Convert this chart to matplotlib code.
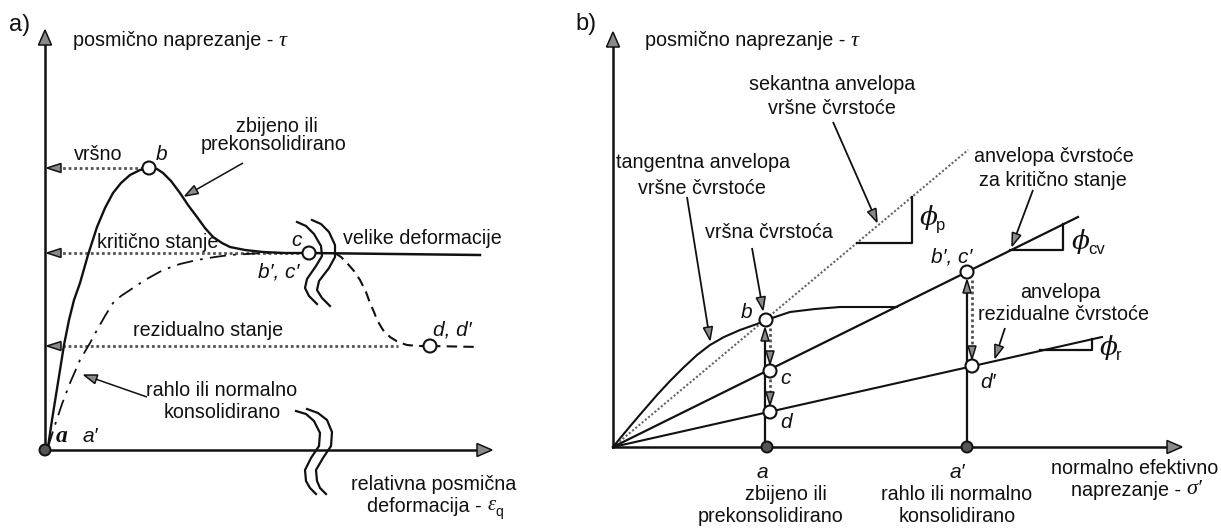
import matplotlib
matplotlib.use("Agg")
import matplotlib.pyplot as plt
from matplotlib.patches import Polygon, Circle
import numpy as np

# ---------------- schematic data (pixel coordinates) ----------------
# Panel a) : shear stress vs shear strain
a_origin = (45, 450)
a_y_top = 30
a_x_end = 492
tau_peak_y = 168
tau_crit_y = 253
tau_resid_y = 346
dense_x = [48, 52, 56, 60, 64, 69, 74, 80, 88, 97, 105, 113, 121, 130, 140, 149,
           157, 163, 171, 180, 188, 197, 205, 213, 222, 230, 245, 263, 285, 309]
dense_y = [447, 420, 395, 370, 345, 320, 300, 283, 255, 227, 208, 193, 183, 175, 170, 168,
           169, 173, 181, 193, 205, 217, 228, 237, 243, 247, 250, 252, 253, 253]
loose_x = [48, 55, 62, 70, 80, 90, 97, 105, 113, 121, 130, 145, 163, 180, 197, 215, 230, 263, 300]
loose_y = [447, 425, 404, 383, 360, 343, 330, 316, 303, 296, 290, 280, 270, 264, 260, 257, 255, 253, 253]
large_x = [309, 480]
large_y = [253, 255]
soft_x = [335, 341, 347, 354, 360, 366, 370, 374, 377, 383, 390, 398, 407, 418, 430]
soft_y = [253, 257, 263, 271, 280, 292, 303, 312, 320, 330, 337, 342, 345, 346, 346]
resid_tail_x = [430, 480]
resid_tail_y = [346, 347]
pt_b = (149, 168)
pt_c = (309, 253)
pt_d = (430, 346)
brk1a_x = [297, 306, 314, 321, 322, 316, 307, 305, 309, 317]
brk1a_y = [222, 226, 234, 246, 256, 266, 279, 288, 296, 304]
brk1b_x = [312, 321, 329, 335, 335, 329, 319, 317, 322, 330]
brk1b_y = [220, 224, 232, 245, 257, 268, 281, 290, 298, 306]
brk2a_x = [296, 306, 314, 320, 319, 311, 305, 306, 310, 316]
brk2a_y = [411, 414, 421, 433, 446, 458, 470, 481, 488, 494]
brk2b_x = [307, 318, 327, 332, 331, 323, 316, 317, 320, 326]
brk2b_y = [409, 413, 420, 432, 446, 458, 470, 481, 488, 494]

# Panel b) : shear stress vs normal effective stress
b_origin = (613, 447)
b_y_top = 32
b_x_end = 1182
pb_b = (766, 320)
pb_c = (770, 371)
pb_d = (770, 412)
pb_bc = (967, 272)
pb_dd = (972, 366)
pb_a = (767, 447)
pb_a2 = (967, 447)
secant_end = (968, 150)
crit_end = (1078, 217)
resid_end = (1102, 337)
tang_x = [613, 622, 632, 644, 657, 670, 683, 697, 710, 724, 740, 757, 766,
          790, 815, 840, 865, 897]
tang_y = [447, 436, 424, 410, 395, 381, 368, 355, 345, 337, 330, 324, 320,
          312, 309, 307, 307, 307]
phi_p_tri = ([857, 912, 912], [243, 243, 197])
phi_cv_tri = ([1010, 1063, 1063], [250, 250, 224])
phi_r_tri = ([1040, 1092, 1092], [350, 350, 339])

# ---------------- drawing ----------------
W, H = 1221, 529
fig = plt.figure(figsize=(W / 100, H / 100), dpi=100)
ax = fig.add_axes([0, 0, 1, 1])
ax.set_xlim(0, W)
ax.set_ylim(H, 0)
ax.axis("off")

K = "#111111"
DOT = dict(color="#555555", lw=2.0, ls=(0, (1, 1)))
SANS = "Liberation Sans"
SERIF = "Liberation Serif"
FS = 14.2


def tri(tip, direction, L=13, Wd=9, fc="#8a8a8a", lw=1.1):
    d = np.asarray(direction, float)
    d = d / np.linalg.norm(d)
    n = np.array([-d[1], d[0]])
    t = np.asarray(tip, float)
    base = t - d * L
    pts = [t, base + n * Wd / 2, base - n * Wd / 2]
    ax.add_patch(Polygon(pts, closed=True, fc=fc, ec=K, lw=lw, zorder=6))


def arrow(p0, p1, lw=1.3, L=13, Wd=9, ls="-", color=K):
    p0 = np.asarray(p0, float)
    p1 = np.asarray(p1, float)
    d = p1 - p0
    dn = d / np.linalg.norm(d)
    end = p1 - dn * (L * 0.7)
    ax.plot([p0[0], end[0]], [p0[1], end[1]], color=color, lw=lw, ls=ls,
            solid_capstyle="butt", zorder=4)
    tri(p1, d, L=L, Wd=Wd)


def circ(p, r=6.5, filled=False):
    if filled:
        ax.add_patch(Circle(p, 5.5, fc="#555555", ec=K, lw=1.4, zorder=7))
    else:
        ax.add_patch(Circle(p, r, fc="white", ec=K, lw=1.5, zorder=7))


def txt(x, y, s, size=FS, ha="center", style="normal", family=SANS, **kw):
    return ax.text(x, y, s, fontsize=size, ha=ha, va="center", fontstyle=style,
                   family=family, color=K, zorder=8, **kw)


def after(prev, s, size=FS, yfrac=0.5, family=SERIF, style="italic", dx=0):
    return ax.annotate(s, xy=(1, yfrac), xycoords=prev, xytext=(dx, 0),
                       textcoords="offset pixels", fontsize=size, ha="left",
                       va="center", family=family, fontstyle=style, color=K, zorder=8)


# ===== panel a =====
ox, oy = a_origin
ax.plot([ox, ox], [oy, a_y_top + 10], color=K, lw=1.8, zorder=3)
tri((ox, a_y_top), (0, -1), L=15, Wd=13)
ax.plot([ox, a_x_end - 10], [oy, oy], color=K, lw=1.8, zorder=3)
tri((a_x_end, oy), (1, 0), L=15, Wd=13)
circ(a_origin, filled=True)

ax.plot(dense_x, dense_y, color=K, lw=1.7, zorder=4)
ax.plot(loose_x, loose_y, color=K, lw=1.3, ls=(0, (9, 4, 1.5, 4)), zorder=4)
ax.plot(large_x, large_y, color=K, lw=1.8, zorder=4)
ax.plot(soft_x, soft_y, color=K, lw=1.5, ls=(0, (5, 3)), zorder=4)
ax.plot(resid_tail_x, resid_tail_y, color=K, lw=1.5, ls=(0, (5, 3)), zorder=4)

for yy, xend in [(tau_peak_y, pt_b[0] - 6), (tau_crit_y, pt_c[0] - 6), (tau_resid_y, 398)]:
    ax.plot([ox + 12, xend], [yy, yy], **DOT, zorder=3)
    tri((ox + 2, yy), (-1, 0), L=14, Wd=9)

for bx, by in [(brk1a_x, brk1a_y), (brk1b_x, brk1b_y), (brk2a_x, brk2a_y), (brk2b_x, brk2b_y)]:
    ax.plot(bx, by, color=K, lw=1.6, zorder=5, solid_joinstyle="round")

circ(pt_b)
circ(pt_c)
circ(pt_d)

arrow((243, 163), (185, 196), lw=1.1)
arrow((147, 397), (84, 375), lw=1.1)

txt(20, 25, "a)", size=17)
t = txt(73, 41, "posmično naprezanje - ", ha="left")
after(t, "τ", size=16)
txt(98, 155, "vršno")
txt(162, 155, "b", size=15, style="italic")
txt(277, 127, "zbijeno ili")
txt(274, 145, "prekonsolidirano")
txt(158, 243, "kritično stanje")
txt(297, 241, "c", size=15, style="italic")
txt(422, 238, "velike deformacije")
txt(279, 272, "b′, c′", size=15, style="italic")
txt(208, 330, "rezidualno stanje")
txt(452, 330, "d, d′", size=15, style="italic")
txt(222, 390, "rahlo ili normalno")
txt(222, 412, "konsolidirano")
txt(62, 437, "a", size=17, style="italic", family=SERIF, weight="bold")
txt(90, 437, "a′", size=15, style="italic")
txt(434, 484, "relativna posmična")
t = txt(367, 506, "deformacija - ", ha="left")
e = after(t, "ε", size=15)
after(e, "q", size=10, yfrac=0.2, family=SANS, style="normal")

# ===== panel b =====
bx0, by0 = b_origin
ax.plot([bx0, bx0], [by0, b_y_top + 10], color=K, lw=1.8, zorder=3)
tri((bx0, b_y_top), (0, -1), L=15, Wd=13)
ax.plot([bx0, b_x_end - 10], [by0, by0], color=K, lw=1.8, zorder=3)
tri((b_x_end, by0), (1, 0), L=15, Wd=13)

ax.plot([bx0, secant_end[0]], [by0, secant_end[1]], color="#666666", lw=1.5,
        ls=(0, (1, 1)), zorder=3)
ax.plot([bx0, crit_end[0]], [by0, crit_end[1]], color=K, lw=1.6, zorder=4)
ax.plot([bx0, resid_end[0]], [by0, resid_end[1]], color=K, lw=1.5, zorder=4)
ax.plot(tang_x, tang_y, color=K, lw=1.5, zorder=4, solid_joinstyle="round")

for tx, ty in [phi_p_tri, phi_cv_tri, phi_r_tri]:
    ax.plot(tx, ty, color=K, lw=1.6, zorder=4)

# vertical paths at a and a'
ax.plot([pb_a[0] - 2, pb_a[0] - 2], [by0, pb_b[1] + 20], color=K, lw=1.6, zorder=4)
tri((pb_a[0] - 2, pb_b[1] + 8), (0, -1), L=13, Wd=8)
ax.plot([pb_c[0], pb_c[0]], [pb_b[1] + 8, pb_c[1] - 12], **DOT, zorder=4)
tri((pb_c[0], pb_c[1] - 7), (0, 1), L=13, Wd=8)
ax.plot([pb_d[0], pb_d[0]], [pb_c[1] + 8, pb_d[1] - 12], **DOT, zorder=4)
tri((pb_d[0], pb_d[1] - 7), (0, 1), L=13, Wd=8)

ax.plot([pb_a2[0], pb_a2[0]], [by0, pb_bc[1] + 20], color=K, lw=1.6, zorder=4)
tri((pb_a2[0], pb_bc[1] + 8), (0, -1), L=13, Wd=8)
ax.plot([pb_dd[0], pb_dd[0]], [pb_bc[1] + 8, pb_dd[1] - 12], **DOT, zorder=4)
tri((pb_dd[0], pb_dd[1] - 7), (0, 1), L=13, Wd=8)

for p in [pb_b, pb_c, pb_d, pb_bc, pb_dd]:
    circ(p)
circ(pb_a, filled=True)
circ(pb_a2, filled=True)

arrow((687, 197), (710, 340), lw=1.3)
arrow((833, 122), (877, 222), lw=1.3)
arrow((752, 248), (763, 310), lw=1.3)
arrow((1033, 190), (1012, 246), lw=1.3)
arrow((1005, 328), (995, 358), lw=1.3)

txt(586, 24, "b)", size=17)
t = txt(645, 41, "posmično naprezanje - ", ha="left")
after(t, "τ", size=16)
txt(832, 85, "sekantna anvelopa")
txt(832, 108, "vršne čvrstoće")
txt(703, 163, "tangentna anvelopa")
txt(702, 188, "vršne čvrstoće")
txt(769, 233, "vršna čvrstoća")
txt(1054, 157, "anvelopa čvrstoće")
txt(1053, 180, "za kritično stanje")
txt(1060, 292, "anvelopa")
txt(1063, 315, "rezidualne čvrstoće")

p = txt(920, 218, "ϕ", size=19, style="italic", family="DejaVu Serif", ha="left")
after(p, "p", size=12, yfrac=0.2, family=SANS, style="normal", dx=-2)
p = txt(1072, 242, "ϕ", size=19, style="italic", family="DejaVu Serif", ha="left")
after(p, "cv", size=12, yfrac=0.2, family=SANS, style="normal", dx=-2)
p = txt(1100, 348, "ϕ", size=19, style="italic", family="DejaVu Serif", ha="left")
after(p, "r", size=12, yfrac=0.2, family=SANS, style="normal", dx=-2)

txt(747, 313, "b", size=15, style="italic")
txt(786, 378, "c", size=15, style="italic")
txt(786, 422, "d", size=15, style="italic")
txt(952, 257, "b′, c′", size=15, style="italic")
txt(988, 382, "d′", size=15, style="italic")
txt(762, 473, "a", size=15, style="italic")
txt(957, 473, "a′", size=15, style="italic")
txt(786, 494, "zbijeno ili")
txt(771, 516, "prekonsolidirano")
txt(957, 494, "rahlo ili normalno")
txt(957, 516, "konsolidirano")
txt(1135, 468, "normalno efektivno")
t = txt(1071, 490, "naprezanje - ", ha="left")
after(t, "σ′", size=16)

fig.savefig("out.png", dpi=100, facecolor="white")
